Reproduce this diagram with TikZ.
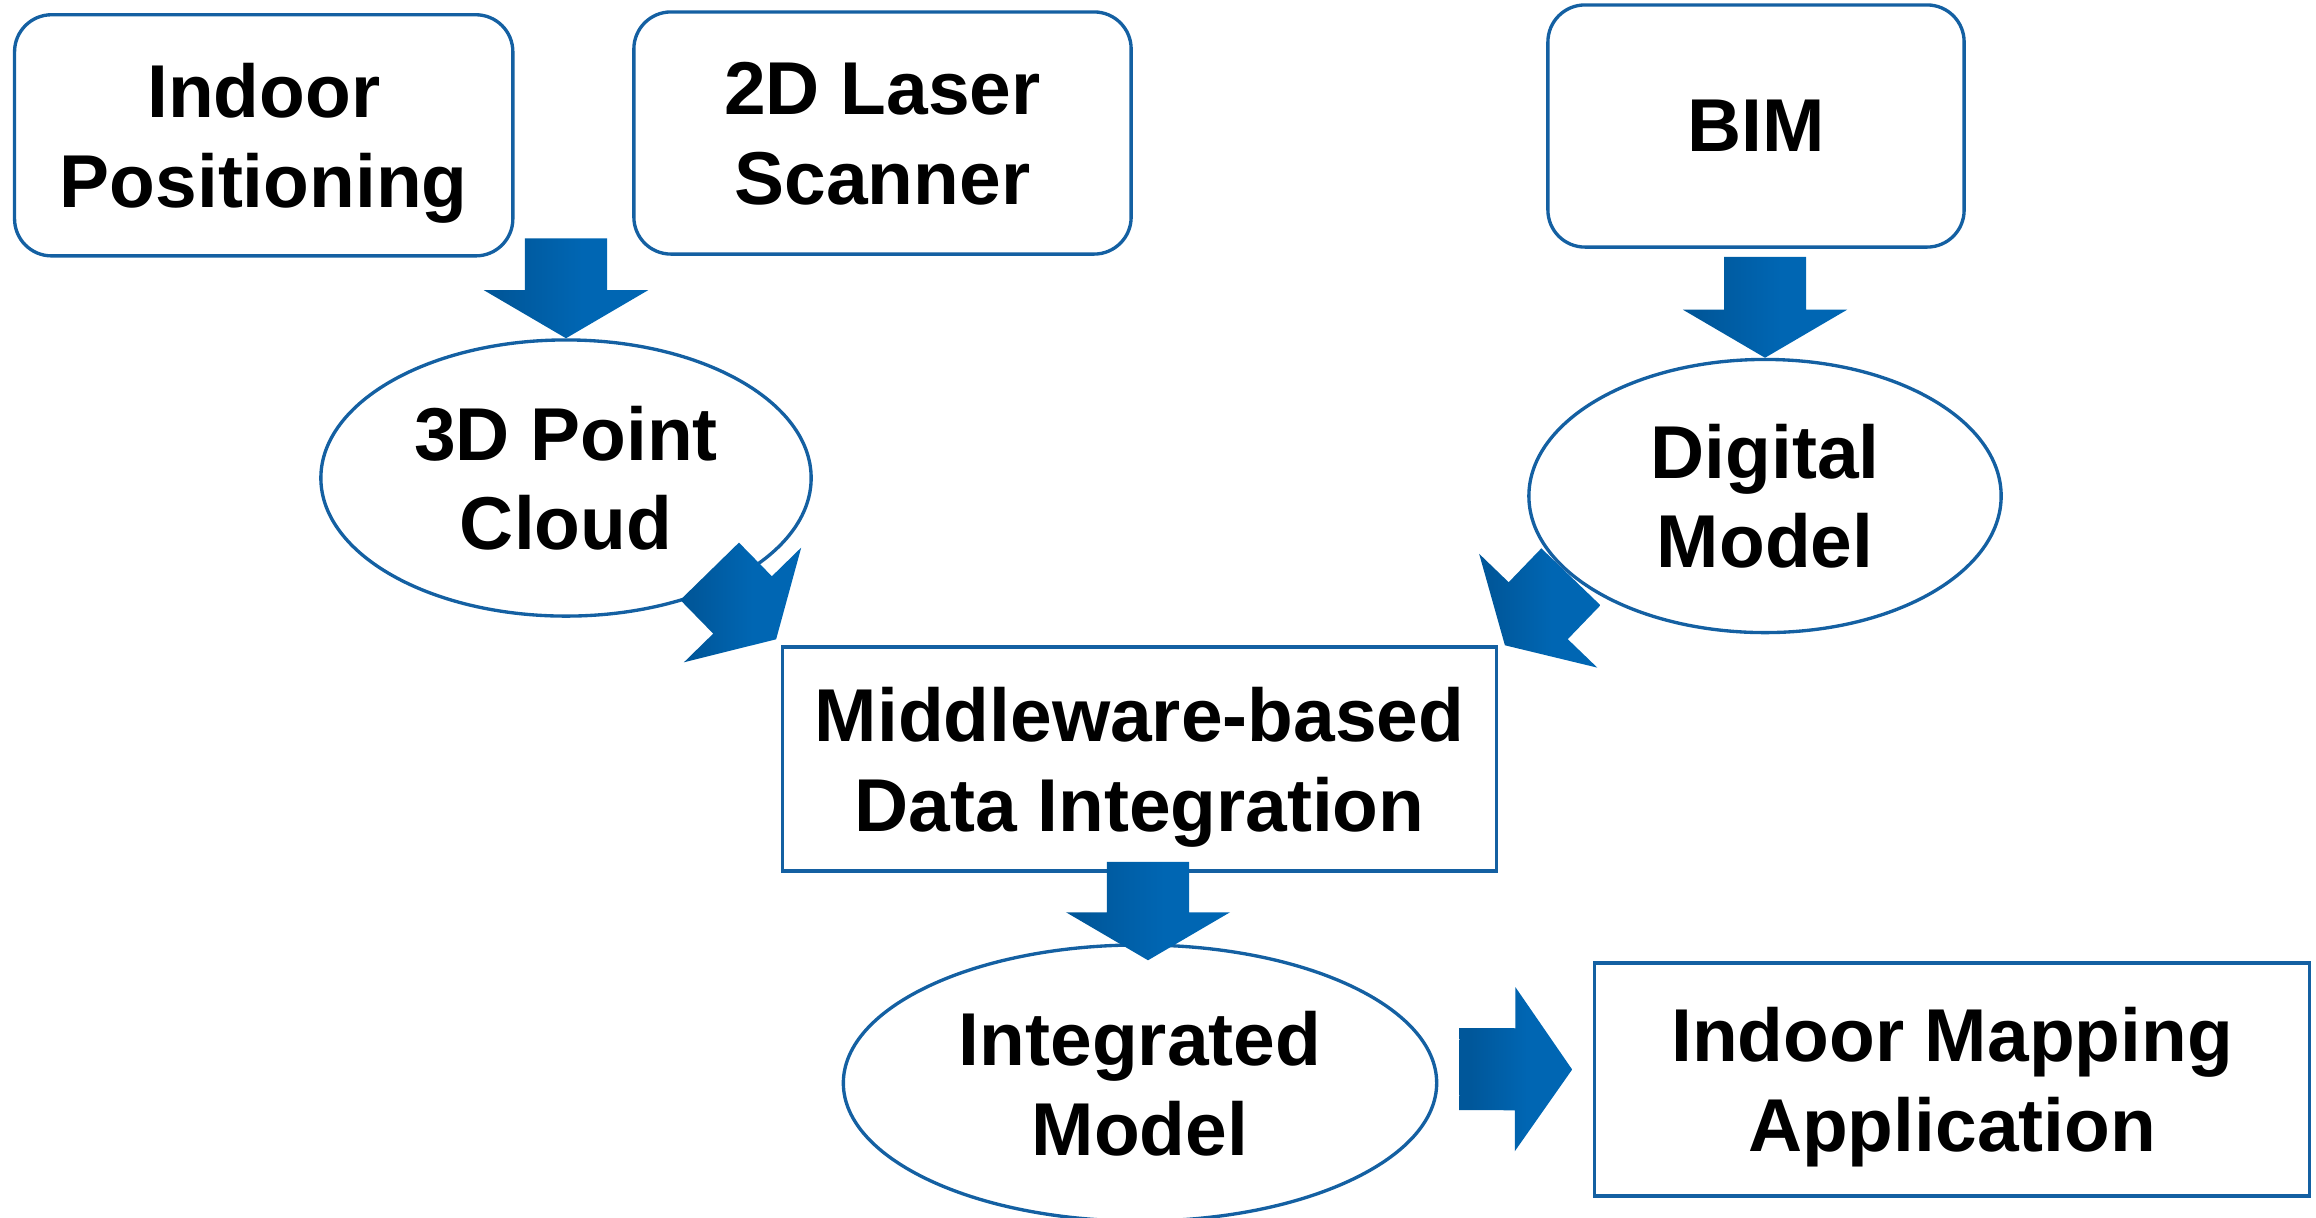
\documentclass[tikz,border=0pt]{standalone}
\usepackage{fontspec}
\setmainfont{Liberation Sans}
\usetikzlibrary{positioning, calc, shapes.geometric}
\definecolor{lineblue}{HTML}{1460A2}
\definecolor{arrowdark}{HTML}{00579A}
\definecolor{arrowmid}{HTML}{0066B3}
\definecolor{arrowdeep}{HTML}{003F7A}
\pgfdeclarehorizontalshading{arrowshade}{100bp}{color(0bp)=(arrowdark); color(30bp)=(arrowdark); color(55bp)=(arrowmid); color(82bp)=(arrowmid); color(100bp)=(arrowdeep)}
\tikzset{
	x = 0.01cm, y = -0.01cm,
	txt/.style = {
		font = \fontsize{21.3}{25.5}\selectfont\bfseries,
		align = center,
		text depth = -0.05cm,
		text = black
	},
	source/.style = {
		txt,
		draw = lineblue,
		line width = 0.95pt,
		rounded corners = 0.37cm
	},
	oval/.style = {
		txt, ellipse,
		draw = lineblue,
		line width = 0.95pt,
		inner sep = 0pt
	},
	block/.style = {
		txt,
		draw = lineblue,
		line width = 0.95pt
	},
	bigarrow/.style = {shading = arrowshade}
}
% block arrow from tail #2 to tip #3, head length #1
\newcommand{\blockarrow}[3][0.48cm]{%
	\coordinate (ba-h) at ($(#3)!#1!(#2)$);
	\shade[bigarrow] ($(#2)!0.41cm!90:(#3)$) -- ($(ba-h)!0.41cm!90:(#3)$)
		-- ($(ba-h)!0.82cm!90:(#3)$) -- (#3) -- ($(ba-h)!0.82cm!-90:(#3)$)
		-- ($(ba-h)!0.41cm!-90:(#3)$) -- ($(#2)!0.41cm!-90:(#3)$) -- cycle;}

\begin{document}
\begin{tikzpicture}
		\useasboundingbox (0,0) rectangle (2316,1217);

		\node[source, minimum width=4.98cm, minimum height=2.41cm] (IP)  at (263.7,135.3) {Indoor\\Positioning};
		\node[source, minimum width=4.97cm, minimum height=2.42cm] (LS)  at (882.5,133)   {2D Laser\\Scanner};
		\node[source, minimum width=4.16cm, minimum height=2.42cm] (BIM) at (1756,126)    {BIM};

		\node[oval, minimum width=4.90cm, minimum height=2.76cm] (PC) at (566,478)  {3D Point\\Cloud};
		\node[oval, minimum width=4.72cm, minimum height=2.73cm] (DM) at (1765,496) {Digital\\Model};

		\node[block, minimum width=7.13cm, minimum height=2.24cm] (MW) at (1139.5,759) {Middleware-based\\Data Integration};

		\node[oval, minimum width=5.93cm, minimum height=2.76cm] (IM) at (1140,1083) {Integrated\\Model};
		\node[block, minimum width=7.14cm, minimum height=2.33cm] (AP) at (1952,1079.5) {Indoor Mapping\\Application};

		% arrows
		\coordinate (t1) at ($(PC.north)+(0,-100)$);
		\coordinate (t2) at ($(DM.north)+(0,-101)$);
		\coordinate (t3) at ($(MW.south)+(8.5,-11)$);
		\coordinate (h3) at ($(IM.north)+(8,17)$);
		\coordinate (t4) at ($(IM.east)+(21,-14)$);
		\coordinate (h4) at ($(AP.west)+(-21,-10)$);
		\coordinate (t5) at ($(MW.north west)+(-71.5,-74)$);
		\coordinate (h5) at ($(MW.north west)+(-5,-6)$);
		\coordinate (t6) at ($(MW.north east)+(73,-68.5)$);
		\coordinate (h6) at ($(MW.north east)+(7,0)$);

		\blockarrow{t1}{PC.north}
		\blockarrow{t2}{DM.north}
		\blockarrow{t3}{h3}
		\blockarrow[0.57cm]{t4}{h4}
		\blockarrow{t5}{h5}
		\blockarrow{t6}{h6}

	\end{tikzpicture}
\end{document}
